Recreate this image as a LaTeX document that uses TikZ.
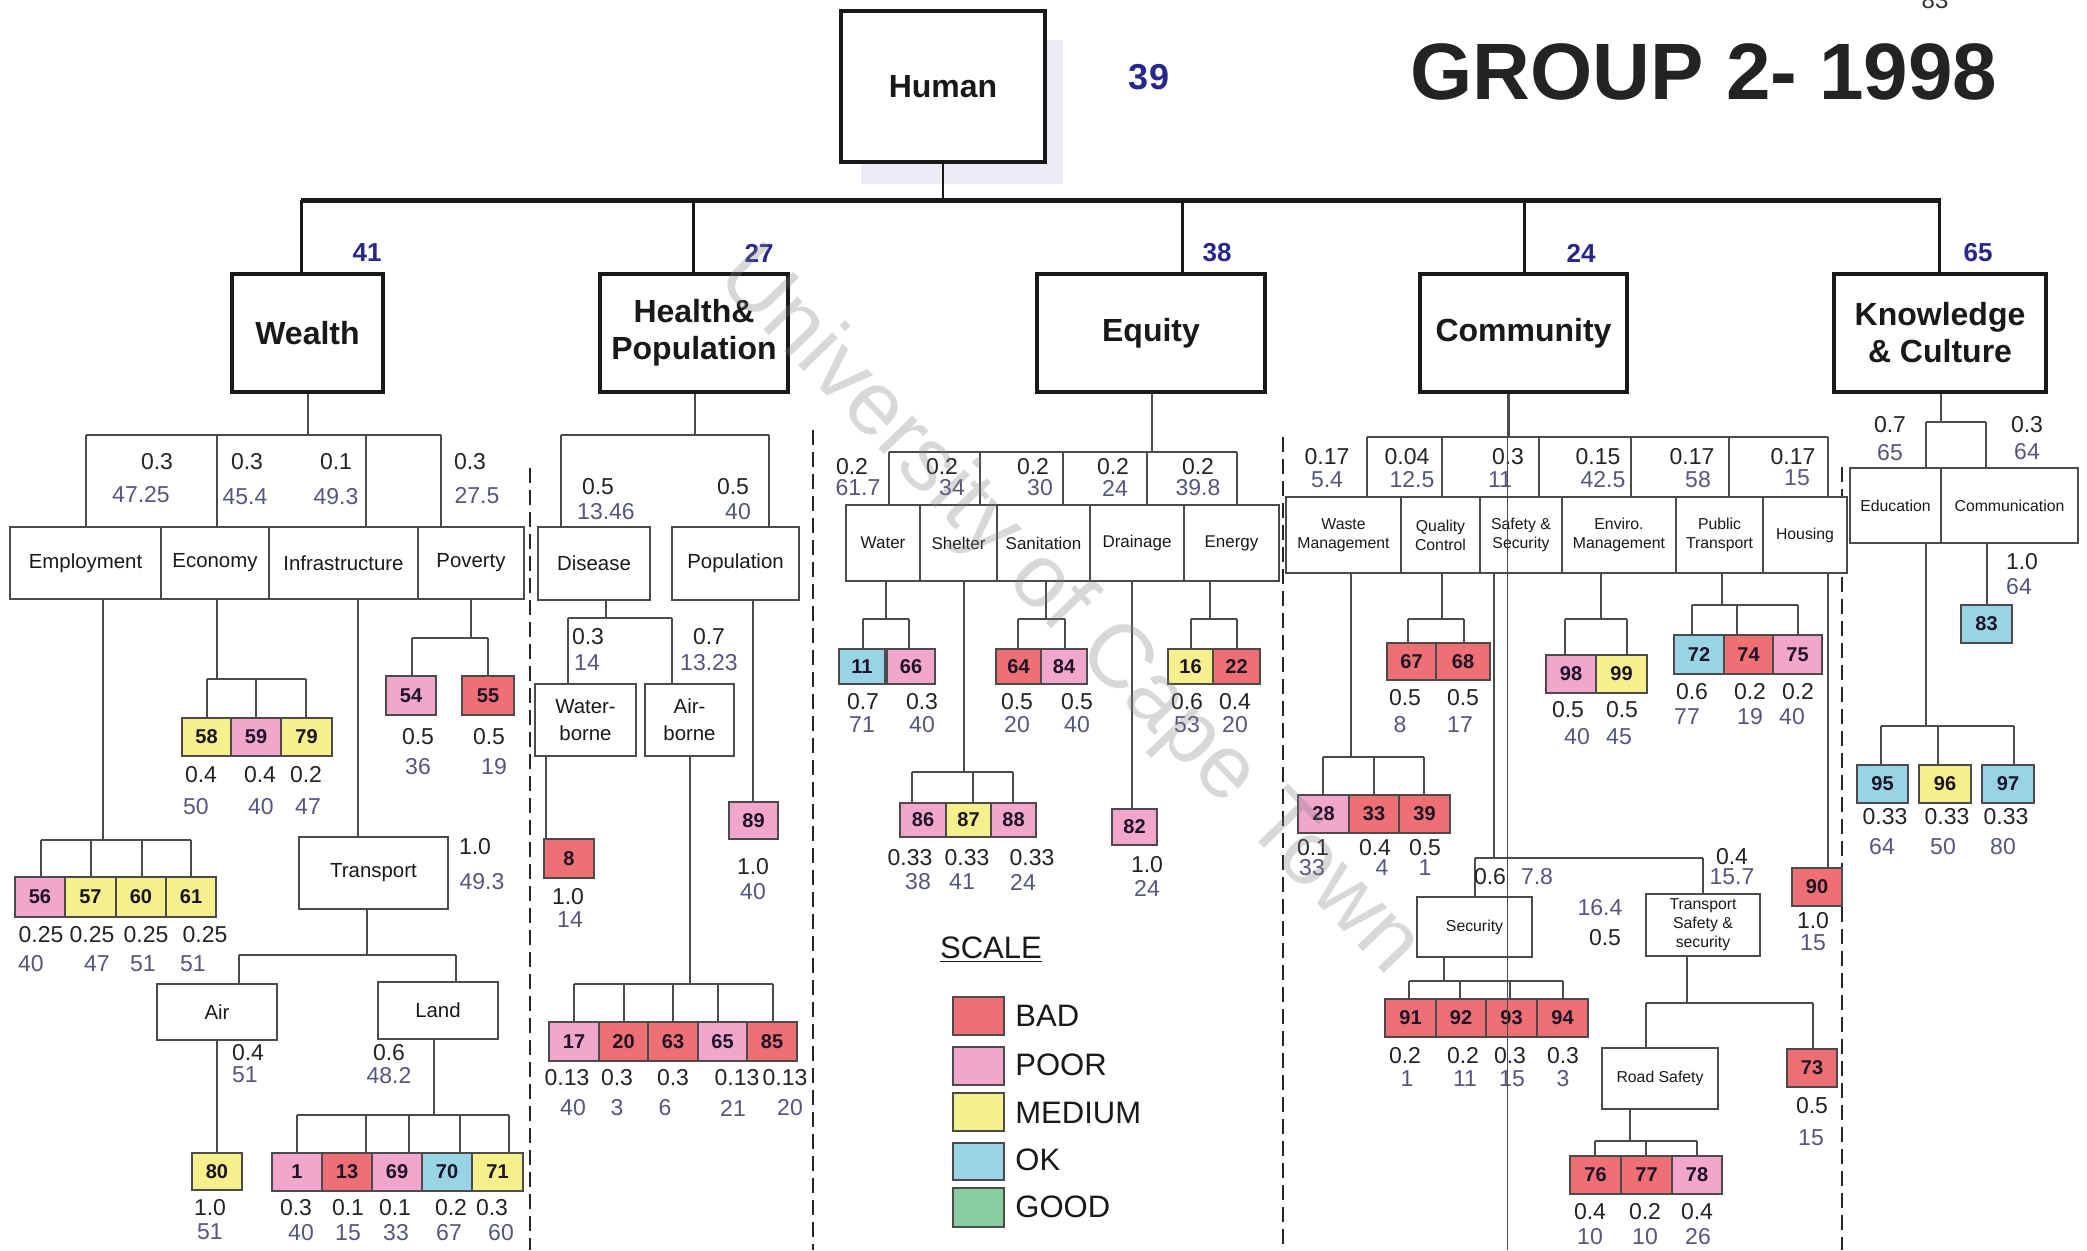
\documentclass[tikz,border=0pt]{standalone}
\usepackage{fontspec}
\setmainfont{Liberation Sans}
\definecolor{cbad}{RGB}{238,112,117}
\definecolor{cpoor}{RGB}{242,166,204}
\definecolor{cmed}{RGB}{246,240,140}
\definecolor{cok}{RGB}{152,212,230}
\definecolor{cgood}{RGB}{135,205,160}
\definecolor{lcol}{RGB}{75,75,75}
\definecolor{wcol}{RGB}{35,35,35}
\definecolor{vcol}{RGB}{85,85,125}
\definecolor{ncol}{RGB}{40,40,140}
\definecolor{numcol}{RGB}{30,20,40}
\definecolor{shad}{RGB}{236,236,246}
\newcounter{lbc}
\newcommand\mkW[3]{\stepcounter{lbc}\node[wtext] (t\arabic{lbc}) at (#1,#2) {#3};}
\newcommand\mkV[3]{\stepcounter{lbc}\node[vtext] (t\arabic{lbc}) at (#1,#2) {#3};}
\newcommand\mkC[7]{\node[cbox,fill=#6,minimum width=#4*0.5pt,minimum height=#5*0.5pt] (#1) at (#2,#3) {#7};}
\newcommand\mkB[7]{\node[wbox,#6,minimum width=#4*0.5pt,minimum height=#5*0.5pt] (#1) at (#2,#3) {#7};}
\newcommand\mkT[6]{\draw[conn] (#2,0 |- #1.south) -- (#2,#3); \draw[conn] (#4,#3) -- (#5,#3); \foreach \x/\n in {#6} {\draw[conn] (\x,#3) -- (\x,0 |- \n.north);}}
\newcommand\mkD[3]{\draw[conn] (#2,0 |- #1.south) -- (#2,0 |- #3.north);}
\begin{document}
\begin{tikzpicture}[x=0.5pt,y=-0.5pt,
 conn/.style={draw=lcol,line width=0.65pt},
 sep/.style={draw=black!85,line width=1.2pt,dash pattern=on 7.5pt off 3.5pt},
 bigbox/.style={draw=black!90,line width=2pt,fill=white,inner sep=0,align=center,font=\bfseries\fontsize{16}{18.5}\selectfont,text=black!90},
 wbox/.style={draw=lcol,line width=0.6pt,fill=white,inner sep=0,align=center,text=black!90},
 fA/.style={font=\fontsize{10.2}{13.5}\selectfont},
 fB/.style={font=\fontsize{8.5}{9.5}\selectfont},
 fC/.style={font=\fontsize{7.9}{9.5}\selectfont},
 cbox/.style={draw=lcol,line width=0.6pt,inner sep=0,font=\bfseries\fontsize{10}{10}\selectfont,text=numcol},
 wtext/.style={inner sep=0,text=wcol,font=\fontsize{11.5}{12}\selectfont},
 vtext/.style={inner sep=0,text=vcol,font=\fontsize{11.5}{12}\selectfont},
 topnum/.style={inner sep=0,text=ncol,font=\bfseries\fontsize{13}{13}\selectfont},
 legtext/.style={inner sep=0,anchor=west,text=black!90,font=\fontsize{15.5}{16}\selectfont}
]
\useasboundingbox (0,0) rectangle (2087,1250);
\fill[white] (0,0) rectangle (2087,1250);
% page number and title
\node[inner sep=0,anchor=south,text=black!80,font=\fontsize{12}{12}\selectfont] (page) at (1935,9) {83};
\node[inner sep=0,font=\bfseries\fontsize{40}{40}\selectfont,text={rgb,255:red,35;green,35;blue,35}] (title) at (1704,72) {GROUP 2- 1998};
% human
\fill[shad] (861,40) rectangle (1063,184);
\node[bigbox,line width=1.6pt,minimum width=204*0.5pt,minimum height=151*0.5pt] (human) at (943,86.5) {Human};
\node[inner sep=0,text=ncol,font=\bfseries\fontsize{18}{18}\selectfont] (n39) at (1149,77) {39};
% level 2 boxes
\node[bigbox,minimum width=151*0.5pt,minimum height=118*0.5pt] (wealth) at (307.5,333) {Wealth};
\node[bigbox,minimum width=188*0.5pt,minimum height=118*0.5pt] (hp) at (694,333) {Health\&\\Population};
\node[bigbox,minimum width=228*0.5pt,minimum height=118*0.5pt] (equity) at (1151,333) {Equity};
\node[bigbox,minimum width=207*0.5pt,minimum height=118*0.5pt] (community) at (1523.5,333) {Community};
\node[bigbox,minimum width=212*0.5pt,minimum height=118*0.5pt] (kc) at (1940,333) {Knowledge\\\& Culture};
\draw[draw=black!90,line width=1pt] (human.south) -- (human.south |- 0,200);
\draw[draw=black!90,line width=2.5pt] (301,200) -- (1941,200);
\foreach \x/\n in {301/wealth,693/hp,1182/equity,1524/community,1939/kc} {\draw[draw=black!90,line width=1.5pt] (\x,200) -- (\x,0 |- \n.north);}
\node[topnum] (n41) at (367,253) {41};
\node[topnum] (n27) at (759,253) {27};
\node[topnum] (n38) at (1217,253) {38};
\node[topnum] (n24) at (1581,253) {24};
\node[topnum] (n65) at (1978,253) {65};
% separators
\draw[sep] (530,468) -- (530,1250);
\draw[sep] (813,430) -- (813,1250);
\draw[sep] (1283,437) -- (1283,1250);
\draw[sep] (1842,467) -- (1842,1250);

% ================= WEALTH
\mkB{emp}{85.5}{563}{151}{72}{fA}{Employment}
\mkB{econ}{215}{563}{108}{72}{fA}{Economy}
\mkB{infra}{343.5}{563}{149}{72}{fA}{Infrastructure}
\mkB{pov}{471}{563}{106}{72}{fA}{Poverty}
\mkT{wealth}{308}{435}{86}{441}{86/emp,217/econ,366/infra,441/pov}
\mkW{157}{462}{0.3} \mkV{141}{495}{47.25}
\mkW{247}{462}{0.3} \mkV{245}{497}{45.4}
\mkW{336}{462}{0.1} \mkV{336}{497}{49.3}
\mkW{470}{462}{0.3} \mkV{477}{496}{27.5}
% economy
\mkC{b58}{206.5}{737}{49}{38}{cmed}{58}
\mkC{b59}{256}{737}{50}{38}{cpoor}{59}
\mkC{b79}{306.5}{737}{51}{38}{cmed}{79}
\mkT{econ}{217}{679}{207}{306}{207/b58,256/b59,306/b79}
\mkW{201}{775}{0.4} \mkW{260}{775}{0.4} \mkW{306}{775}{0.2}
\mkV{196}{807}{50} \mkV{261}{807}{40} \mkV{308}{807}{47}
% poverty
\mkC{b54}{411}{695.5}{50}{39}{cpoor}{54}
\mkC{b55}{488}{695.5}{52}{39}{cbad}{55}
\mkT{pov}{471}{638}{412}{488}{412/b54,488/b55}
\mkW{418}{737}{0.5} \mkW{489}{737}{0.5}
\mkV{418}{767}{36} \mkV{494}{767}{19}
% employment
\mkC{b56}{40}{897}{50}{40}{cpoor}{56}
\mkC{b57}{90.5}{897}{51}{40}{cmed}{57}
\mkC{b60}{141}{897}{50}{40}{cmed}{60}
\mkC{b61}{191}{897}{50}{40}{cmed}{61}
\mkT{emp}{103}{840}{41}{191}{41/b56,91/b57,142/b60,191/b61}
\mkW{41}{935}{0.25} \mkW{92}{935}{0.25} \mkW{146}{935}{0.25} \mkW{205}{935}{0.25}
\mkV{31}{964}{40} \mkV{97}{964}{47} \mkV{143}{964}{51} \mkV{193}{964}{51}
% infrastructure
\mkB{transport}{373.5}{873}{149}{72}{fA}{Transport}
\mkD{infra}{358}{transport}
\mkW{475}{847}{1.0} \mkV{482}{882}{49.3}
\mkB{air}{217}{1012}{120}{56}{fA}{Air}
\mkB{land}{438}{1010.5}{120}{57}{fA}{Land}
\mkT{transport}{367}{955}{239}{456}{239/air,456/land}
\mkW{248}{1053}{0.4} \mkV{245}{1075}{51}
\mkW{389}{1053}{0.6} \mkV{389}{1076}{48.2}
\mkC{b80}{217}{1171.5}{50}{37}{cmed}{80}
\mkD{air}{217}{b80}
\mkW{210}{1208}{1.0} \mkV{210}{1232}{51}
\mkC{b1}{297}{1172}{50}{38}{cpoor}{1}
\mkC{b13}{347}{1172}{50}{38}{cbad}{13}
\mkC{b69}{397}{1172}{50}{38}{cpoor}{69}
\mkC{b70}{447}{1172}{50}{38}{cok}{70}
\mkC{b71}{497.5}{1172}{51}{38}{cmed}{71}
\mkT{land}{434}{1115}{297}{509}{297/b1,366/b13,409/b69,460/b70,509/b71}
\mkW{296}{1208}{0.3} \mkW{348}{1208}{0.1} \mkW{395}{1208}{0.1} \mkW{451}{1208}{0.2} \mkW{492}{1208}{0.3}
\mkV{301}{1233}{40} \mkV{348}{1233}{15} \mkV{396}{1233}{33} \mkV{449}{1233}{67} \mkV{501}{1233}{60}

% ================= HEALTH & POPULATION
\mkB{disease}{594}{563.5}{112}{73}{fA}{Disease}
\mkB{popn}{735.5}{563.5}{127}{73}{fA}{Population}
\mkT{hp}{695}{435}{561}{769}{561/disease,769/popn}
\mkW{598}{487}{0.5} \mkV{606}{512}{13.46}
\mkW{733}{487}{0.5} \mkV{738}{512}{40}
\mkB{waterb}{585.5}{720}{101}{72}{fA}{Water-\\borne}
\mkB{airb}{689.5}{720}{89}{72}{fA}{Air-\\borne}
\mkT{disease}{606}{618}{568}{672}{568/waterb,672/airb}
\mkW{588}{637}{0.3} \mkV{587}{663}{14}
\mkW{709}{637}{0.7} \mkV{709}{663}{13.23}
\mkC{b8}{569}{858.5}{50}{39}{cbad}{8}
\mkD{waterb}{546}{b8}
\mkW{568}{897}{1.0} \mkV{570}{920}{14}
\mkC{b89}{753.5}{820.5}{49}{37}{cpoor}{89}
\mkD{popn}{753}{b89}
\mkW{753}{867}{1.0} \mkV{753}{892}{40}
\mkC{b17}{574}{1041.5}{50}{39}{cpoor}{17}
\mkC{b20}{623.5}{1041.5}{49}{39}{cbad}{20}
\mkC{b63}{673}{1041.5}{50}{39}{cbad}{63}
\mkC{b65}{722.5}{1041.5}{49}{39}{cpoor}{65}
\mkC{b85}{772}{1041.5}{50}{39}{cbad}{85}
\mkT{airb}{690}{984}{574}{773}{574/b17,624/b20,673/b63,718/b65,773/b85}
\mkW{567}{1078}{0.13} \mkW{617}{1078}{0.3} \mkW{673}{1078}{0.3} \mkW{737}{1078}{0.13} \mkW{785}{1078}{0.13}
\mkV{573}{1108}{40} \mkV{617}{1108}{3} \mkV{665}{1108}{6} \mkV{733}{1108}{21} \mkV{790}{1108}{20}

% ================= EQUITY
\mkB{water}{883}{543}{74}{76}{fB}{Water}
\mkB{shelter}{958.5}{543}{77}{76}{fB}{Shelter}
\mkB{sanit}{1043.5}{543}{93}{76}{fB}{Sanitation}
\mkB{drain}{1137}{543}{94}{76}{fB}{Drainage}
\mkB{energy}{1231.5}{543}{95}{76}{fB}{Energy}
\mkT{equity}{1152}{452}{889}{1237}{889/water,980/shelter,1063/sanit,1147/drain,1237/energy}
\mkW{852}{467}{0.2} \mkV{858}{488}{61.7}
\mkW{942}{467}{0.2} \mkV{952}{488}{34}
\mkW{1033}{467}{0.2} \mkV{1040}{488}{30}
\mkW{1113}{467}{0.2} \mkV{1115}{488}{24}
\mkW{1198}{467}{0.2} \mkV{1198}{488}{39.8}
\mkC{b11}{862}{666.5}{46}{35}{cok}{11}
\mkC{b66}{911}{666.5}{48}{35}{cpoor}{66}
\mkT{water}{886}{619}{863}{909}{863/b11,909/b66}
\mkW{863}{702}{0.7} \mkW{922}{702}{0.3}
\mkV{862}{725}{71} \mkV{922}{725}{40}
\mkC{b86}{923}{820}{46}{34}{cpoor}{86}
\mkC{b87}{968.5}{820}{45}{34}{cmed}{87}
\mkC{b88}{1013.5}{820}{45}{34}{cpoor}{88}
\mkT{shelter}{964}{772}{912}{1013}{912/b86,973/b87,1013/b88}
\mkW{910}{858}{0.33} \mkW{967}{858}{0.33} \mkW{1032}{858}{0.33}
\mkV{918}{882}{38} \mkV{962}{882}{41} \mkV{1023}{882}{24}
\mkC{b64}{1018.5}{666.5}{45}{35}{cbad}{64}
\mkC{b84}{1064}{666.5}{46}{35}{cpoor}{84}
\mkT{sanit}{1046}{619}{1018}{1065}{1018/b64,1065/b84}
\mkW{1017}{702}{0.5} \mkW{1077}{702}{0.5}
\mkV{1017}{725}{20} \mkV{1077}{725}{40}
\mkC{b82}{1134.5}{827}{45}{36}{cpoor}{82}
\mkD{drain}{1132}{b82}
\mkW{1147}{865}{1.0} \mkV{1147}{888}{24}
\mkC{b16}{1190.5}{666.5}{45}{35}{cmed}{16}
\mkC{b22}{1236.5}{666.5}{47}{35}{cbad}{22}
\mkT{energy}{1210}{619}{1191}{1237}{1191/b16,1237/b22}
\mkW{1187}{702}{0.6} \mkW{1235}{702}{0.4}
\mkV{1187}{725}{53} \mkV{1235}{725}{20}
% legend
\node[inner sep=0,text=black!90,font=\fontsize{15.5}{16}\selectfont] (scale) at (991,950) {\underline{SCALE}};
\mkC{sw1}{978.5}{1016}{51}{38}{cbad}{}
\mkC{sw2}{978.5}{1066}{51}{38}{cpoor}{}
\mkC{sw3}{978.5}{1112}{51}{38}{cmed}{}
\mkC{sw4}{978.5}{1161.5}{51}{37}{cok}{}
\mkC{sw5}{978.5}{1207.5}{51}{39}{cgood}{}
\node[legtext] (lg1) at (1015,1016) {BAD};
\node[legtext] (lg2) at (1015,1065) {POOR};
\node[legtext] (lg3) at (1015,1113) {MEDIUM};
\node[legtext] (lg4) at (1015,1160) {OK};
\node[legtext] (lg5) at (1015,1207) {GOOD};

% ================= COMMUNITY
\mkB{waste}{1343.5}{535}{115}{76}{fC}{Waste\\Management}
\mkB{quality}{1440.5}{535}{79}{76}{fC}{Quality\\Control}
\mkB{safety}{1521}{535}{82}{76}{fC}{Safety \&\\Security}
\mkB{enviro}{1619}{535}{114}{76}{fC}{Enviro.\\Management}
\mkB{public}{1719.5}{535}{87}{76}{fC}{Public\\Transport}
\mkB{housing}{1805}{535}{84}{76}{fC}{Housing}
\mkT{community}{1509}{437}{1367}{1828}{1367/waste,1442/quality,1539/safety,1631/enviro,1729/public,1828/housing}
\mkW{1327}{457}{0.17} \mkV{1327}{480}{5.4}
\mkW{1407}{457}{0.04} \mkV{1412}{480}{12.5}
\mkW{1508}{457}{0.3} \mkV{1500}{480}{11}
\mkW{1598}{457}{0.15} \mkV{1603}{480}{42.5}
\mkW{1692}{457}{0.17} \mkV{1698}{480}{58}
\mkW{1793}{457}{0.17} \mkV{1797}{478}{15}
% waste
\mkC{b28}{1323.5}{814}{51}{38}{cpoor}{28}
\mkC{b33}{1374}{814}{50}{38}{cbad}{33}
\mkC{b39}{1424.5}{814}{51}{38}{cbad}{39}
\mkT{waste}{1351}{757}{1323}{1424}{1323/b28,1374/b33,1424/b39}
\mkW{1313}{848}{0.1} \mkW{1375}{848}{0.4} \mkW{1425}{848}{0.5}
\mkV{1312}{868}{33} \mkV{1382}{868}{4} \mkV{1425}{868}{1}
% quality
\mkC{b67}{1411.5}{661.5}{49}{37}{cbad}{67}
\mkC{b68}{1463}{661.5}{54}{37}{cbad}{68}
\mkT{quality}{1442}{619}{1408}{1464}{1408/b67,1464/b68}
\mkW{1405}{698}{0.5} \mkW{1463}{698}{0.5}
\mkV{1400}{725}{8} \mkV{1460}{725}{17}
% enviro
\mkC{b98}{1571}{674}{50}{38}{cpoor}{98}
\mkC{b99}{1621.5}{674}{51}{38}{cmed}{99}
\mkT{enviro}{1601}{619}{1565}{1627}{1565/b98,1627/b99}
\mkW{1568}{710}{0.5} \mkW{1622}{710}{0.5}
\mkV{1577}{737}{40} \mkV{1619}{737}{45}
% public transport
\mkC{b72}{1699}{654.5}{50}{39}{cok}{72}
\mkC{b74}{1748.5}{654.5}{49}{39}{cbad}{74}
\mkC{b75}{1797.5}{654.5}{49}{39}{cpoor}{75}
\mkT{public}{1722}{605}{1692}{1798}{1692/b72,1737/b74,1798/b75}
\mkW{1692}{692}{0.6} \mkW{1750}{692}{0.2} \mkW{1798}{692}{0.2}
\mkV{1687}{717}{77} \mkV{1750}{717}{19} \mkV{1792}{717}{40}
% housing
\mkC{b90}{1817}{887}{50}{38}{cbad}{90}
\mkD{housing}{1828}{b90}
\mkW{1813}{921}{1.0} \mkV{1813}{943}{15}
% safety & security
\mkB{security}{1474.5}{927}{115}{60}{fC}{Security}
\mkB{tss}{1703}{925}{114}{62}{fC}{Transport\\Safety \&\\security}
\mkT{safety}{1494}{858}{1475}{1703}{1475/security,1703/tss}
\mkW{1490}{877}{0.6} \mkV{1537}{877}{7.8}
\mkW{1732}{857}{0.4} \mkV{1732}{877}{15.7}
\mkV{1600}{908}{16.4} \mkW{1605}{938}{0.5}
\mkC{b91}{1410.5}{1018}{51}{38}{cbad}{91}
\mkC{b92}{1461}{1018}{50}{38}{cbad}{92}
\mkC{b93}{1511.5}{1018}{51}{38}{cbad}{93}
\mkC{b94}{1562.5}{1018}{51}{38}{cbad}{94}
\mkT{security}{1444}{981}{1409}{1563}{1409/b91,1460/b92,1510/b93,1563/b94}
\mkW{1405}{1056}{0.2} \mkW{1463}{1056}{0.2} \mkW{1510}{1056}{0.3} \mkW{1563}{1056}{0.3}
\mkV{1407}{1079}{1} \mkV{1465}{1079}{11} \mkV{1512}{1079}{15} \mkV{1563}{1079}{3}
\mkB{road}{1660}{1078.5}{116}{61}{fC}{Road Safety}
\mkC{b73}{1812}{1068}{50}{38}{cbad}{73}
\mkT{tss}{1687}{1003}{1646}{1813}{1646/road,1813/b73}
\mkW{1812}{1106}{0.5} \mkV{1811}{1138}{15}
\mkC{b76}{1595.5}{1175}{51}{38}{cbad}{76}
\mkC{b77}{1646.5}{1175}{51}{38}{cbad}{77}
\mkC{b78}{1697}{1175}{50}{38}{cpoor}{78}
\mkT{road}{1630}{1141}{1595}{1697}{1595/b76,1646/b77,1697/b78}
\mkW{1590}{1212}{0.4} \mkW{1645}{1212}{0.2} \mkW{1697}{1212}{0.4}
\mkV{1590}{1237}{10} \mkV{1645}{1237}{10} \mkV{1698}{1237}{26}
% thin line through community
\draw[draw=lcol,line width=0.45pt] (1507,0 |- community.south) -- (1507,1250);

% ================= KNOWLEDGE & CULTURE
\mkB{educ}{1895.5}{505.5}{91}{75}{fC}{Education}
\mkB{comm}{2009.5}{505.5}{137}{75}{fC}{Communication}
\mkT{kc}{1941}{422}{1926}{1986}{1926/educ,1986/comm}
\mkW{1890}{425}{0.7} \mkV{1890}{453}{65}
\mkW{2027}{425}{0.3} \mkV{2027}{452}{64}
\mkC{b83}{1986.5}{624}{51}{38}{cok}{83}
\mkD{comm}{1987}{b83}
\mkW{2022}{562}{1.0} \mkV{2019}{587}{64}
\mkC{b95}{1882.5}{784}{51}{38}{cok}{95}
\mkC{b96}{1945}{784}{52}{38}{cmed}{96}
\mkC{b97}{2008}{784}{52}{38}{cok}{97}
\mkT{educ}{1926}{726}{1881}{2014}{1881/b95,1938/b96,2014/b97}
\mkW{1885}{817}{0.33} \mkW{1947}{817}{0.33} \mkW{2006}{817}{0.33}
\mkV{1882}{847}{64} \mkV{1943}{847}{50} \mkV{2003}{847}{80}

% watermark on top, faint
\node[rotate=-46,text=gray,text opacity=0.3,font=\fontsize{45}{45}\selectfont,inner sep=0] (wm) at (1068,612) {University of Cape Town};
\end{tikzpicture}
\end{document}
